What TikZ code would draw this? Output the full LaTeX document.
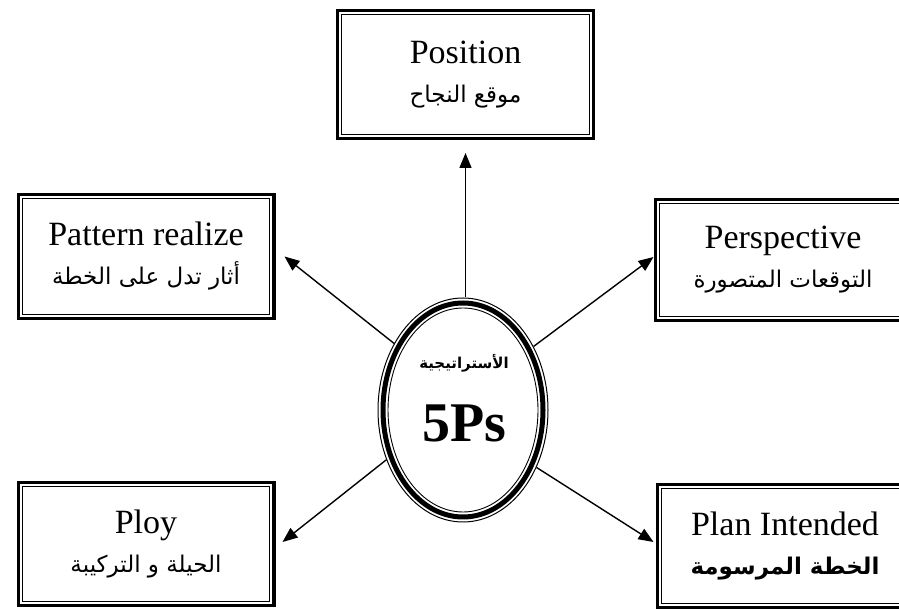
\documentclass[tikz,border=0pt]{standalone}
\usepackage{fontspec}
\setmainfont{Liberation Serif}
\newfontfamily\arabicfont[Script=Arabic]{DejaVu Sans}
\TeXXeTstate=1
\usetikzlibrary{arrows.meta,shapes.geometric}
\newcommand\artext[1]{{\arabicfont\beginR #1\endR}}
\newcommand\arsize{\fontsize{23}{28}\selectfont}

\begin{document}
\begin{tikzpicture}[x=1pt,y=1pt,
  pbox/.style={draw, line width=3.4pt, minimum width=255.6pt, minimum height=#1,
    inner sep=0pt, align=center, font=\fontsize{34}{44}\selectfont},
  arr/.style={line width=1.4pt, -{Triangle[length=15pt,width=12pt]}},
  innerframe/.style={line width=1.1pt}]

\useasboundingbox (0,0) rectangle (899,610);

% the five P boxes
\node[pbox=127.6pt] (position) at (465.5,535.5)
  {Position\\[-5pt]{\arsize\artext{موقع النجاح}}};
\node[pbox=123.6pt] (pattern) at (146,353.5)
  {Pattern realize\\[-5pt]{\arsize\artext{أثار تدل على الخطة}}};
\node[pbox=120.6pt] (persp) at (783,350)
  {Perspective\\[-5pt]{\arsize\artext{التوقعات المتصورة}}};
\node[pbox=122.6pt] (ploy) at (146,66)
  {Ploy\\[-5pt]{\arsize\artext{الحيلة و التركيبة}}};
\node[pbox=122.6pt] (plan) at (785,64)
  {Plan Intended\\[-5pt]{\arsize\bfseries\artext{الخطة المرسومة}}};

% thin inner frame of each box
\foreach \n in {position,pattern,persp,ploy,plan}
  \draw[innerframe] ([shift={(5.9,-5.9)}]\n.north west) rectangle ([shift={(-5.9,5.9)}]\n.south east);

% central ellipse with its compound border
\node[draw, ellipse, line width=1pt, minimum width=170pt, minimum height=224pt, inner sep=0pt] (c) at (463,200) {};
\draw[line width=5pt] (c.center) ellipse [x radius=80, y radius=107];
\draw[line width=0.9pt] (c.center) ellipse [x radius=75, y radius=102];

\node[font=\fontsize{15}{18}\selectfont\bfseries] (ctitle) at (464,247) {\artext{الأستراتيجية}};
\node[font=\fontsize{56}{60}\selectfont\bfseries] (cname) at (464,187) {5Ps};

% arrows from the centre to the boxes
\draw[arr] (c.north -| position.south) -- ([yshift=-13pt]position.south);
\draw[arr] (c.136) -- ([xshift=9pt]pattern.east);
\draw[arr] (c.42) -- ([yshift=3pt]persp.west);
\draw[arr] (c.213) -- ([xshift=7pt,yshift=2pt]ploy.east);
\draw[arr] (c.322) -- ([xshift=-2pt,yshift=4pt]plan.west);
\end{tikzpicture}
\end{document}
